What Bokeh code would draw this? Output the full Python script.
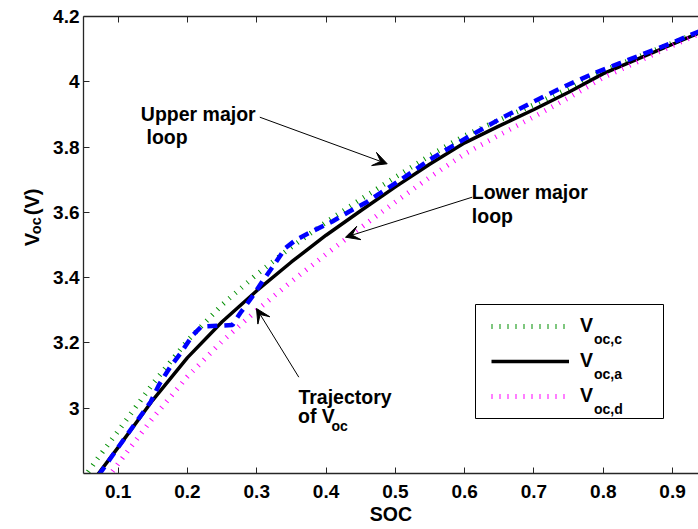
import math
from bokeh.plotting import figure
from bokeh.layouts import row
from bokeh.models import (Range1d, LinearAxis, FixedTicker, Label, Arrow, VeeHead,
                          Legend, LegendItem, BoxAnnotation)
from bokeh.embed import file_html
from bokeh.resources import INLINE

# ---------------- data ----------------
soc = [0.05, 0.07, 0.10, 0.15, 0.20, 0.25, 0.30, 0.35, 0.40, 0.45, 0.50,
       0.55, 0.60, 0.65, 0.70, 0.75, 0.80, 0.85, 0.90, 0.95, 1.00]
voc_c = [2.785, 2.845, 2.93, 3.075, 3.207, 3.317, 3.41, 3.494, 3.57, 3.64, 3.708,
         3.774, 3.835, 3.883, 3.93, 3.98, 4.034, 4.076, 4.119, 4.162, 4.205]
voc_a = [2.735, 2.795, 2.88, 3.025, 3.155, 3.265, 3.36, 3.448, 3.53, 3.605, 3.678,
         3.748, 3.813, 3.865, 3.915, 3.968, 4.025, 4.07, 4.115, 4.16, 4.205]
voc_d = [2.69, 2.745, 2.83, 2.97, 3.097, 3.205, 3.30, 3.388, 3.472, 3.553, 3.632,
         3.708, 3.779, 3.837, 3.893, 3.951, 4.013, 4.062, 4.111, 4.158, 4.205]
traj_soc = [0.072, 0.10, 0.147, 0.159, 0.175, 0.192, 0.207, 0.22, 0.265, 0.276,
            0.293, 0.308, 0.325, 0.341, 0.356, 0.382, 0.409, 0.433, 0.459, 0.507,
            0.55, 0.60, 0.65, 0.70, 0.743, 0.791, 0.825, 0.90, 0.95, 1.0]
traj_voc = [2.795, 2.88, 3.02, 3.072, 3.126, 3.174, 3.222, 3.25, 3.255, 3.291,
            3.34, 3.388, 3.439, 3.49, 3.515, 3.544, 3.572, 3.602, 3.632, 3.699,
            3.762, 3.825, 3.885, 3.94, 3.985, 4.03, 4.058, 4.12, 4.165, 4.205]
x_ticks = [0.1, 0.2, 0.3, 0.4, 0.5, 0.6, 0.7, 0.8, 0.9]
x_tick_labels = ["0.1", "0.2", "0.3", "0.4", "0.5", "0.6", "0.7", "0.8", "0.9"]
y_ticks = [3.0, 3.2, 3.4, 3.6, 3.8, 4.0, 4.2]
y_tick_labels = ["3", "3.2", "3.4", "3.6", "3.8", "4", "4.2"]
legend_subs = ["oc,c", "oc,a", "oc,d"]

# ---------------- layout ----------------
FONT = "Liberation Sans"
TOTAL_W, TOTAL_H = 698, 529
SIDE_W = 45                      # narrow panel that holds the rotated y label
FIG_W, FIG_H = TOTAL_W - SIDE_W, TOTAL_H
B_LEFT, B_TOP, B_BOTTOM = 83 - SIDE_W, 16, 56
X_START, X_END = 0.05, 0.9374
Y_START, Y_END = 2.8, 4.2
FRAME_L = SIDE_W + B_LEFT        # page px of the frame's left edge
FRAME_T = B_TOP
FRAME_W = FIG_W - B_LEFT
FRAME_H = FIG_H - B_TOP - B_BOTTOM
FRAME_B = FRAME_T + FRAME_H


def dx(px):
    return X_START + (px - FRAME_L) / FRAME_W * (X_END - X_START)


def dy(py):
    return Y_END - (py - FRAME_T) / FRAME_H * (Y_END - Y_START)


p = figure(width=FIG_W, height=FIG_H, x_range=Range1d(X_START, X_END),
           y_range=Range1d(Y_START, Y_END), output_backend="svg",
           toolbar_location=None, min_border_left=B_LEFT, min_border_right=0,
           min_border_top=B_TOP, min_border_bottom=B_BOTTOM)
p.outline_line_color = None
p.background_fill_color = "white"
p.border_fill_color = "white"
for g in p.grid:
    g.visible = False

AX_COLOR = "#262626"


def style_axis(ax, ticks, labels, size="19px", standoff=5):
    ax.ticker = FixedTicker(ticks=ticks)
    ax.major_label_overrides = {t: l for t, l in zip(ticks, labels)}
    ax.major_tick_in = 6
    ax.major_tick_out = 0
    ax.minor_tick_in = 0
    ax.minor_tick_out = 0
    ax.axis_line_color = AX_COLOR
    ax.axis_line_width = 1.3
    ax.major_tick_line_color = AX_COLOR
    ax.major_tick_line_width = 1
    ax.major_label_text_font = FONT
    ax.major_label_text_font_style = "bold"
    ax.major_label_text_font_size = size
    ax.major_label_text_color = "black"
    ax.major_label_standoff = standoff


xax = p.below[0]
style_axis(xax, x_ticks, x_tick_labels, standoff=11)
xax.axis_label = "SOC"
xax.axis_label_text_font = FONT
xax.axis_label_text_font_style = "bold"
xax.axis_label_text_font_size = "19.5px"
xax.axis_label_text_color = "black"
xax.axis_label_standoff = 2

yax = p.left[0]
style_axis(yax, y_ticks, y_tick_labels, standoff=4)

top = LinearAxis()
style_axis(top, x_ticks, ["" for _ in x_ticks], size="0px", standoff=0)
p.add_layout(top, "above")

# ---------------- curves ----------------
r_c = p.line(soc, voc_c, line_color="#008f00", line_width=5, line_dash="1 7")
r_a = p.line(soc, voc_a, line_color="black", line_width=3.5)
r_d = p.line(soc, voc_d, line_color="#ff00ff", line_width=5, line_dash="1 7")
r_t = p.line(traj_soc, traj_voc, line_color="#0000ff", line_width=4.5, line_dash="10 7")

# ---------------- legend ----------------
box = BoxAnnotation(left=dx(475), right=dx(663), top=dy(304), bottom=dy(418),
                    fill_color="white", fill_alpha=1.0, line_color="black",
                    line_width=1, line_alpha=1.0)
p.add_layout(box)

ROW_H, ROW_GAP = 32, 3
legend_top = 325.7 - ROW_H / 2
legend_bottom = legend_top + 3 * ROW_H + 2 * ROW_GAP
legend = Legend(items=[LegendItem(label="V", renderers=[r_c]),
                       LegendItem(label="V", renderers=[r_a]),
                       LegendItem(label="V", renderers=[r_d])],
                location=(491 - FRAME_L, FRAME_B - legend_bottom),
                margin=0, padding=0, spacing=ROW_GAP,
                glyph_width=78, glyph_height=ROW_H, label_height=ROW_H, label_width=20,
                label_standoff=11, border_line_color=None, background_fill_alpha=0,
                label_text_font=FONT, label_text_font_style="bold",
                label_text_font_size="19.5px", label_text_baseline="alphabetic",
                label_text_color="black")
p.add_layout(legend)

for sub, base in zip(legend_subs, [338.3, 373.3, 408.3]):
    p.add_layout(Label(x=dx(593.5), y=dy(base), text=sub, text_font=FONT,
                       text_font_style="bold", text_font_size="14px",
                       text_color="black", text_align="left",
                       text_baseline="alphabetic"))


# ---------------- text annotations ----------------
def add_text(fig, txt, x, y, size="19.5px", angle=0.0):
    fig.add_layout(Label(x=x, y=y, text=txt, text_font=FONT,
                         text_font_style="bold", text_font_size=size,
                         text_color="black", text_align="left",
                         text_baseline="alphabetic", angle=angle))


add_text(p, "Upper major", dx(140.3), dy(113.3))
add_text(p, "loop", dx(146.0), dy(136.7))
add_text(p, "Lower major", dx(471.3), dy(191.7))
add_text(p, "loop", dx(471.3), dy(215.0))
add_text(p, "Trajectory", dx(297.9), dy(396.7))
add_text(p, "of V", dx(297.5), dy(415.0))
add_text(p, "oc", dx(331.0), dy(425.0), size="14px")


def add_arrow(x0, y0, x1, y1):
    p.add_layout(Arrow(end=VeeHead(size=14, fill_color="black", line_color="black",
                                   line_width=1),
                       x_start=dx(x0), y_start=dy(y0), x_end=dx(x1), y_end=dy(y1),
                       line_color="black", line_width=1))


add_arrow(259.3, 116.7, 386.7, 163.3)
add_arrow(471.7, 196.7, 345.0, 236.7)
add_arrow(298.3, 376.7, 256.0, 308.0)

# ---------------- y axis label panel (V_oc (V)) ----------------
side = figure(width=SIDE_W, height=FIG_H, x_range=Range1d(0, SIDE_W),
              y_range=Range1d(FIG_H, 0), output_backend="svg",
              toolbar_location=None, min_border=0, min_border_left=0,
              min_border_right=0, min_border_top=0, min_border_bottom=0,
              x_axis_location=None, y_axis_location=None)
side.outline_line_color = None
side.background_fill_color = "white"
side.border_fill_color = "white"
for g in side.grid:
    g.visible = False

add_text(side, "V", 31.0, 266.0, size="20px", angle=math.pi / 2)
add_text(side, "oc", 35.5, 252.0, size="14.5px", angle=math.pi / 2)
add_text(side, "(V)", 31.0, 230.0, size="20px", angle=math.pi / 2)

layout = row(side, p, spacing=0)
open("out.html", "w").write(file_html(layout, INLINE))
